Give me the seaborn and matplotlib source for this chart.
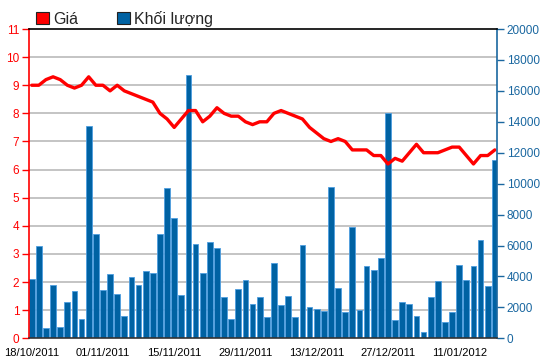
import numpy as np
import pandas as pd
import matplotlib
matplotlib.use("Agg")
import matplotlib.pyplot as plt
from matplotlib.patches import Patch
import seaborn as sns

# --- DỮ LIỆU ---
# ngày giao dịch 18/10/2011 - 18/01/2012 (nghỉ 02/01/2012)
dates = pd.bdate_range("2011-10-18", "2012-01-18")
dates = dates[dates != pd.Timestamp("2012-01-02")]
date_labels = [d.strftime("%d/%m/%Y") for d in dates]

price = [9.0, 9.0, 9.2, 9.3, 9.2, 9.0, 8.9, 9.0, 9.3, 9.0,
         9.0, 8.8, 9.0, 8.8, 8.7, 8.6, 8.5, 8.4, 8.0, 7.8,
         7.5, 7.8, 8.1, 8.1, 7.7, 7.9, 8.2, 8.0, 7.9, 7.9,
         7.7, 7.6, 7.7, 7.7, 8.0, 8.1, 8.0, 7.9, 7.8, 7.5,
         7.3, 7.1, 7.0, 7.1, 7.0, 6.7, 6.7, 6.7, 6.5, 6.5,
         6.2, 6.4, 6.3, 6.6, 6.9, 6.6, 6.6, 6.6, 6.7, 6.8,
         6.8, 6.5, 6.2, 6.5, 6.5, 6.7]

volume = [3840, 5950, 650, 3430, 710, 2330, 3040, 1270, 13730, 6720,
          3100, 4180, 2890, 1420, 3990, 3430, 4330, 4250, 6720, 9700,
          7800, 2780, 17000, 6100, 4250, 6250, 5860, 2690, 1270, 3190,
          3770, 2240, 2650, 1360, 4890, 2160, 2720, 1360, 6010, 2000,
          1920, 1790, 9780, 3280, 1680, 7220, 1830, 4660, 4400, 5220,
          14550, 1190, 2350, 2240, 1420, 390, 2650, 3690, 1030, 1680,
          4740, 3750, 4660, 6340, 3360, 11550]

price_ticks = list(range(0, 12))
volume_ticks = list(range(0, 20001, 2000))
date_tick_pos = list(range(0, 61, 10))

RED = "#ff0000"
BLUE = "#0062a3"
BLUE_AXIS = "#1a67a0"

sns.set_style("white")
plt.rcParams["font.family"] = ["Liberation Sans", "DejaVu Sans"]

df = pd.DataFrame({"ngay": date_labels, "pos": np.arange(len(dates)),
                   "gia": price, "khoi_luong": volume})

fig = plt.figure(figsize=(5.5, 3.64), dpi=100)
ax_vol = fig.add_axes([0.0527, 0.0706, 0.8509, 0.8497])

# cột khối lượng
sns.barplot(data=df, x="ngay", y="khoi_luong", ax=ax_vol, color=BLUE,
            saturation=1, width=0.8, edgecolor="#4d9de0", linewidth=0.6,
            zorder=2)
ax_vol.set_ylim(0, 20000)
for k in range(1, 11):
    ax_vol.axhline(k * 20000 / 11, color="#c4c4c4", lw=1.4, zorder=0)

# đường giá
ax_price = ax_vol.twinx()
sns.lineplot(data=df, x="pos", y="gia", ax=ax_price, color=RED, lw=2.4)
ax_price.set_ylim(0, 11)
ax_price.set_xlim(-0.38, 65.3)

ax_price.yaxis.tick_left()
ax_vol.yaxis.tick_right()
ax_price.set_yticks(price_ticks)
ax_vol.set_yticks(volume_ticks)
ax_price.set_xticks(date_tick_pos)
ax_price.set_xticklabels([date_labels[i] for i in date_tick_pos])
ax_vol.set_xticks(date_tick_pos)
ax_vol.set_xticklabels([date_labels[i] for i in date_tick_pos])

for a in (ax_vol, ax_price):
    a.set_xlabel("")
    a.set_ylabel("")

ax_price.tick_params(axis="y", colors=RED, labelsize=8.5, length=5, width=1,
                     direction="out", pad=2)
ax_vol.tick_params(axis="y", colors=BLUE_AXIS, labelsize=8.5, length=5,
                   width=1, direction="out", pad=2)
ax_price.tick_params(axis="x", bottom=False, labelbottom=False)
ax_vol.tick_params(axis="x", colors="black", labelsize=8, length=4,
                   direction="out", pad=3)

for s in ax_vol.spines.values():
    s.set_visible(False)
ax_price.spines["left"].set_color(RED)
ax_price.spines["right"].set_color(BLUE_AXIS)
ax_price.spines["top"].set_color("black")
ax_price.spines["bottom"].set_color("#333333")
for s in ax_price.spines.values():
    s.set_linewidth(1.2)

handles = [Patch(facecolor=RED, edgecolor="#222222", lw=0.8),
           Patch(facecolor=BLUE, edgecolor="#222222", lw=0.8)]
fig.legend(handles, ["Giá", "Khối lượng"], loc="upper left",
           bbox_to_anchor=(0.039, 1.01), ncol=2, frameon=False,
           fontsize=11.5, handlelength=0.8, handleheight=0.8,
           handletextpad=0.3, columnspacing=2.4)

fig.savefig("out.png", dpi=100)
